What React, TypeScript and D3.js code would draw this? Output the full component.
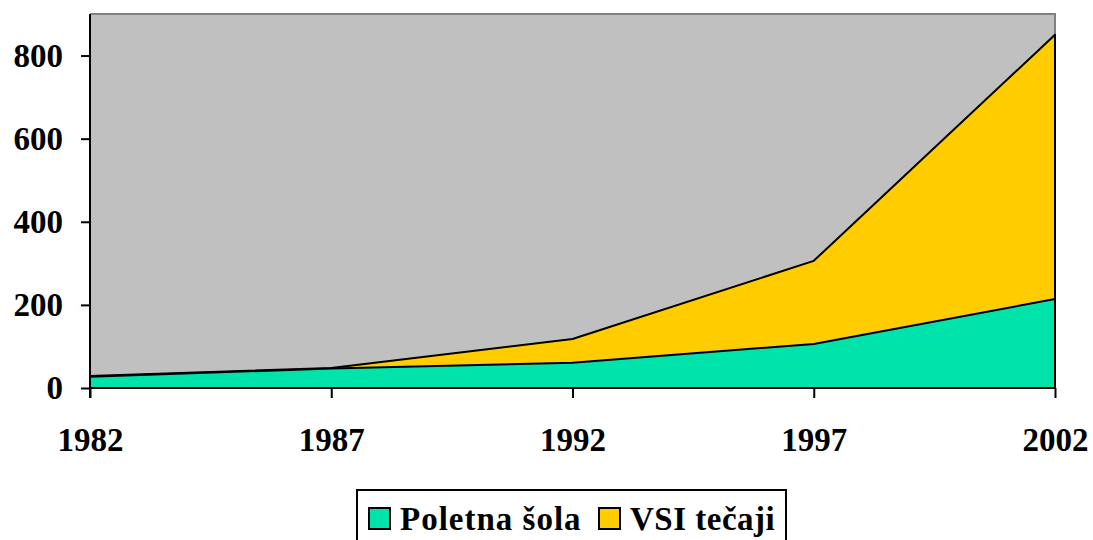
import React, { useEffect, useRef } from 'react';
import * as d3 from 'd3';

const years = [1982, 1987, 1992, 1997, 2002];
const poletnaSola = [27, 47, 61, 106, 214];
const vsiTecaji = [29, 48, 118, 306, 850];
const yTicks = [0, 200, 400, 600, 800];
const seriesNames = ['Poletna šola', 'VSI tečaji'];
const seriesColors = ['#00E3AB', '#FFCC00'];

const W = 1093, H = 540;
const left = 90, right = 1055, top = 14, bottom = 388;

const App = () => {
  const ref = useRef<SVGSVGElement>(null);

  useEffect(() => {
    const svg = d3.select(ref.current);
    svg.selectAll('*').remove();

    const x = d3.scaleLinear().domain([1982, 2002]).range([left, right]);
    const y = d3.scaleLinear().domain([0, 900]).range([bottom, top]);

    // plot background
    svg.append('rect').attr('x', left).attr('y', top)
      .attr('width', right - left).attr('height', bottom - top)
      .attr('fill', '#C0C0C0');
    svg.append('path')
      .attr('d', `M${left},${top}H${right}V${bottom}`)
      .attr('fill', 'none').attr('stroke', '#808080').attr('stroke-width', 2);

    const area = d3.area<number>()
      .x((d, i) => x(years[i]))
      .y0(y(0))
      .y1(d => y(d));

    [vsiTecaji, poletnaSola].forEach((s, k) => {
      svg.append('path')
        .datum(s)
        .attr('d', area)
        .attr('fill', k === 0 ? seriesColors[1] : seriesColors[0])
        .attr('stroke', '#000')
        .attr('stroke-width', 2)
        .attr('stroke-linejoin', 'round');
    });

    const font = '"Liberation Serif", "Times New Roman", serif';

    // y axis
    const ya = svg.append('g').attr('transform', `translate(${left},0)`)
      .call(d3.axisLeft(y).tickValues(yTicks).tickSize(9).tickPadding(18).tickFormat(d3.format('d')));
    ya.select('.domain').attr('stroke', '#000').attr('stroke-width', 2).attr('d', `M0,${top}V${bottom + 10}`);
    ya.selectAll('line').attr('stroke', '#000').attr('stroke-width', 2);
    ya.selectAll('text').attr('font-family', font).attr('font-size', 33).attr('font-weight', 'bold').attr('fill', '#000');

    // x axis
    const xa = svg.append('g').attr('transform', `translate(0,${bottom})`)
      .call(d3.axisBottom(x).tickValues(years).tickSize(10).tickPadding(30).tickFormat(d3.format('d')));
    xa.select('.domain').attr('stroke', '#000').attr('stroke-width', 2).attr('d', `M${left},0H${right}`);
    xa.selectAll('line').attr('stroke', '#000').attr('stroke-width', 2);
    xa.selectAll('text').attr('font-family', font).attr('font-size', 33).attr('font-weight', 'bold').attr('fill', '#000');

    // legend
    const lg = svg.append('g');
    lg.append('rect').attr('x', 357).attr('y', 490).attr('width', 429).attr('height', 60)
      .attr('fill', '#fff').attr('stroke', '#000').attr('stroke-width', 2);
    const items = [{ x: 369, tx: 400 }, { x: 599, tx: 630 }];
    items.forEach((it, i) => {
      lg.append('rect').attr('x', it.x).attr('y', 508).attr('width', 21).attr('height', 21)
        .attr('fill', seriesColors[i]).attr('stroke', '#000').attr('stroke-width', 2);
      lg.append('text').attr('x', it.tx).attr('y', 530)
        .attr('font-family', font).attr('font-size', 33).attr('font-weight', 'bold')
        .attr('letter-spacing', i === 0 ? 1 : 0.5)
        .text(seriesNames[i]);
    });
  }, []);

  return (
    <svg ref={ref} width={W} height={H} style={{ position: 'absolute', left: 0, top: 0, background: '#fff' }} />
  );
};

export default App;
